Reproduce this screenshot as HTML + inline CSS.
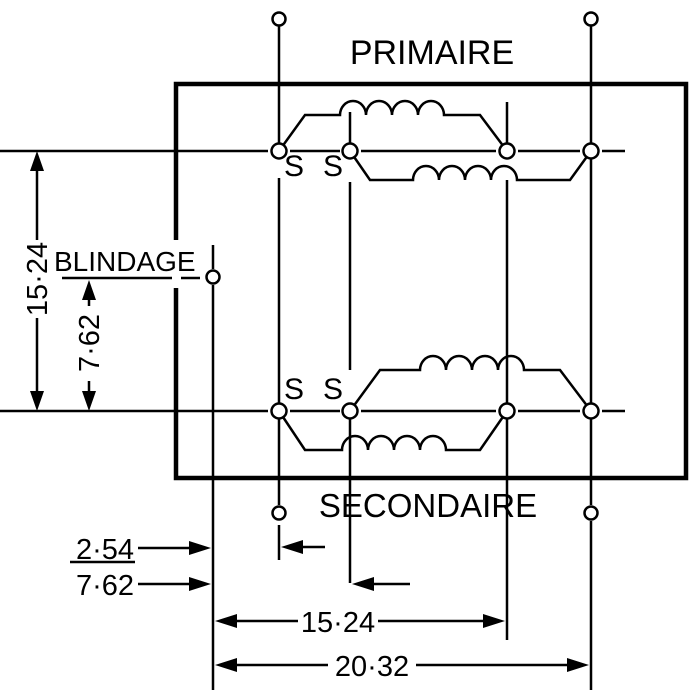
<!DOCTYPE html>
<html><head><style>body{margin:0;background:#fff}svg{display:block}text{font-family:"Liberation Sans",sans-serif;fill:#000}</style></head><body>
<svg width="700" height="700" viewBox="0 0 700 700" xmlns="http://www.w3.org/2000/svg">
<g stroke="#000" fill="none" stroke-width="2.5">
<rect x="176" y="84" width="510" height="394" stroke-width="4.5"/>
<path d="M0,151H268 M290,151H340 M361,151H496 M518,151H580 M602,151H625"/>
<path d="M0,411H268 M290,411H340 M361,411H496 M518,411H580 M602,411H625"/>
<path d="M279,26V143 M279,178V404 M279,419V505"/>
<path d="M591,26V143 M591,158V403 M591,419V505 M591,521V690"/>
<path d="M350,112V143 M350,182V370 M350,419V583"/>
<path d="M507,102V143 M507,180V403 M507,419V640"/>
<path d="M213,245V269 M213,285V690"/>
<path d="M279,525V560"/>
<path d="M279,151L305,115H340a13,14 0 0 1 26,0a13,14 0 0 1 26,0a13,14 0 0 1 26,0a13,14 0 0 1 26,0H480L507,151"/>
<path d="M350,151L370,180H413a13,14 0 0 1 26,0a13,14 0 0 1 26,0a13,14 0 0 1 26,0a13,14 0 0 1 26,0H570L591,151"/>
<path d="M350,411L380,370H420a13,14 0 0 1 26,0a13,14 0 0 1 26,0a13,14 0 0 1 26,0a13,14 0 0 1 26,0H560L591,411"/>
<path d="M279,411L305,450H342a13,14 0 0 1 26,0a13,14 0 0 1 26,0a13,14 0 0 1 26,0a13,14 0 0 1 26,0H480L507,411"/>
<path d="M37,165V240 M37,318V397"/>
<path d="M89,292V306 M89,381V397"/>
<path d="M62,278H200"/>
<path d="M70,562H135"/>
<path d="M138,548H190 M138,584H190"/>
<path d="M325,547H295 M410,584H366"/>
<path d="M228,621H298 M378,621H492"/>
<path d="M228,665H328 M416,665H576"/>
</g>
<rect x="172" y="240" width="9" height="48" fill="#fff"/>
<g fill="#fff" stroke="#000" stroke-width="2.5">
<circle cx="279" cy="19" r="6.5"/><circle cx="591" cy="19" r="6.5"/>
<circle cx="279" cy="151" r="7.5"/><circle cx="350" cy="151" r="7.5"/><circle cx="507" cy="151" r="7.5"/><circle cx="591" cy="151" r="7.5"/>
<circle cx="279" cy="411" r="7.5"/><circle cx="350" cy="411" r="7.5"/><circle cx="507" cy="411" r="7.5"/><circle cx="591" cy="411" r="7.5"/>
<circle cx="279" cy="513" r="6.5"/><circle cx="591" cy="513" r="6.5"/>
<circle cx="213" cy="277" r="6.5"/>
</g>
<g fill="#000">
<path d="M37,151l-7,20h14z M37,411l-7,-20h14z"/>
<path d="M89,280l-7,20h14z M89,411l-7,-20h14z"/>
<path d="M211,548l-22,-7v14z M211,584l-22,-7v14z"/>
<path d="M281,547l22,-7v14z M352,584l22,-7v14z"/>
<path d="M215,621l22,-7v14z M505,621l-22,-7v14z"/>
<path d="M215,665l22,-7v14z M589,665l-22,-7v14z"/>
</g>
<text x="432" y="64" font-size="34" text-anchor="middle">PRIMAIRE</text>
<text x="428" y="517" font-size="33" text-anchor="middle">SECONDAIRE</text>
<text x="284" y="176" font-size="30">S</text><text x="323" y="176" font-size="30">S</text>
<text x="284" y="399" font-size="30">S</text><text x="323" y="399" font-size="30">S</text>
<text x="54" y="271" font-size="28">BLINDAGE</text>
<text x="134" y="559" font-size="29" text-anchor="end">2·54</text>
<text x="134" y="595" font-size="29" text-anchor="end">7·62</text>
<text x="338" y="632" font-size="29" text-anchor="middle">15·24</text>
<text x="372" y="676" font-size="29" text-anchor="middle">20·32</text>
<text transform="translate(47,279) rotate(-90)" font-size="29" text-anchor="middle">15·24</text>
<text transform="translate(99,343) rotate(-90)" font-size="29" text-anchor="middle">7·62</text>
</svg>
</body></html>
